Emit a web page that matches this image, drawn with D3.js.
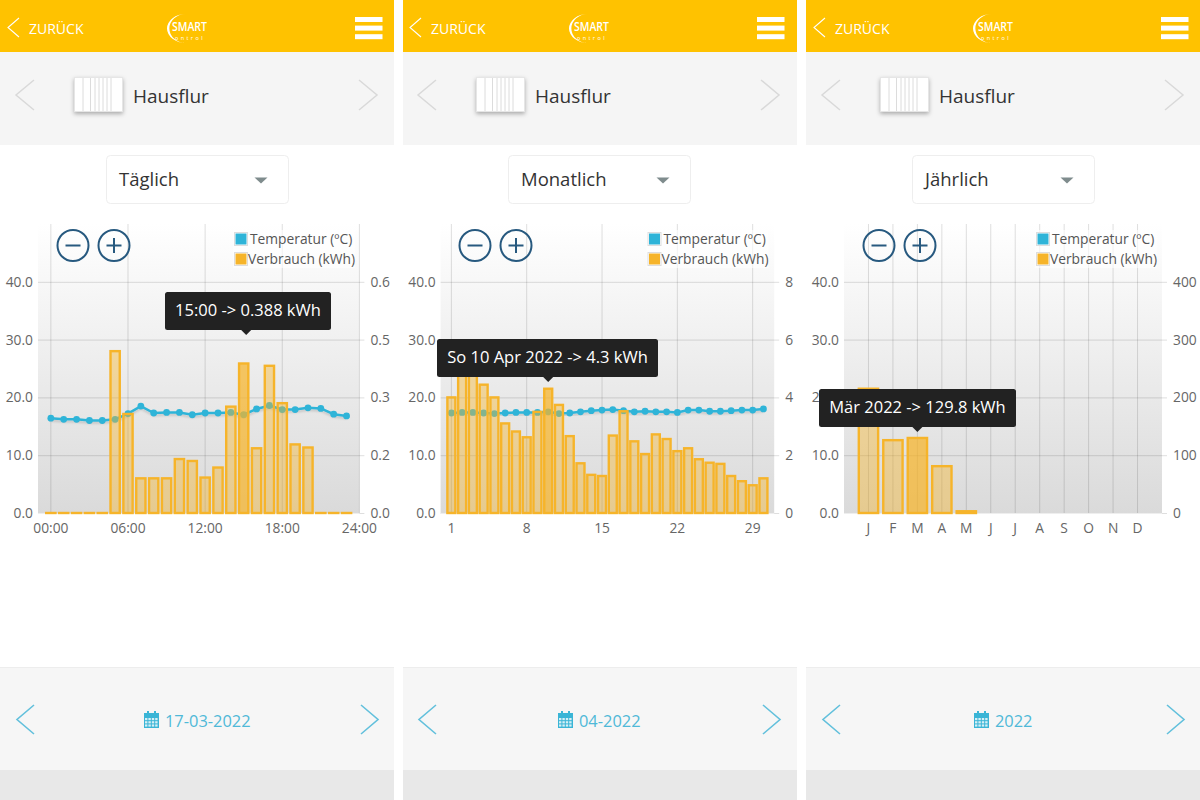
<!DOCTYPE html>
<html><head><meta charset="utf-8">
<script src="https://cdn.jsdelivr.net/npm/d3@7"></script>
<style>
html,body{margin:0;padding:0;background:#fff;overflow:hidden}
svg{display:block;font-family:"Open Sans",sans-serif}
</style></head><body>
<svg id="c" width="1200" height="800"></svg>
<script>
// ---- data ----
const dayHours = d3.range(0,24);
const dayTemp = [16.4,16.2,16.2,16.0,16.0,16.2,17.2,18.5,17.3,17.4,17.4,17.0,17.3,17.3,17.4,17.0,18.0,18.6,17.9,17.9,18.2,18.1,17.1,16.8];
const dayKwh = [0,0,0,0,0,0.42,0.257,0.09,0.09,0.09,0.14,0.135,0.092,0.118,0.276,0.388,0.168,0.382,0.285,0.178,0.17,0,0,0];
const dayTicks = [0,6,12,18,24];
const dayTickLabels = ["00:00","06:00","12:00","18:00","24:00"];
const dayRight = [0,0.15,0.3,0.45,0.6];
const dayRightLabels = ["0.0","0.2","0.3","0.5","0.6"];

const monthDays = d3.range(1,31);
const monthTemp = [17.3,17.4,17.4,17.3,17.2,17.3,17.4,17.4,17.4,17.5,17.2,17.3,17.5,17.7,17.8,17.9,17.7,17.5,17.6,17.5,17.5,17.4,17.8,17.8,17.6,17.6,17.7,17.8,17.8,18.0];
const monthKwh = [4.0,5.0,4.8,4.44,4.0,3.1,2.82,2.62,3.5,4.3,3.74,2.66,1.72,1.32,1.28,2.68,3.52,2.48,2.04,2.72,2.56,2.14,2.24,1.86,1.74,1.7,1.28,1.1,0.96,1.2];
const monthTicks = [1,8,15,22,29];
const monthTickLabels = ["1","8","15","22","29"];
const monthRight = [0,2,4,6,8];
const monthRightLabels = ["0","2","4","6","8"];

const yearMonths = [1,2,3,4,5];
const yearKwh = [215,126,129.8,81,3];
const yearTicks = d3.range(1,13);
const yearTickLabels = ["J","F","M","A","M","J","J","A","S","O","N","D"];
const yearRight = [0,100,200,300,400];
const yearRightLabels = ["0","100","200","300","400"];

const leftTicks = [0,10,20,30,40];
const legendLabels = ["Temperatur (ºC)","Verbrauch (kWh)"];
const rangeNames = ["Täglich","Monatlich","Jährlich"];
const dateLabels = ["17-03-2022","04-2022","2022"];
const tooltips = ["15:00 -> 0.388 kWh","So 10 Apr 2022 -> 4.3 kWh","Mär 2022 -> 129.8 kWh"];

// ---- panels ----
const panels = [
 {ox:0,  hx:0,  l:38,   r:359.4, xd:[-1,24], rmax:0.75, x:dayHours, t:dayTemp, k:dayKwh, hi:15, bw:.72,
  xt:dayTicks, xl:dayTickLabels, rt:dayRight, rl:dayRightLabels, lx:234, tipL:165,tipW:166,tipY:292,tipDx:2.5, date:144},
 {ox:403,hx:402,l:440.6,r:774.2, xd:[0,31],  rmax:10,   x:monthDays, t:monthTemp, k:monthKwh, hi:10, bw:.74,
  xt:monthTicks, xl:monthTickLabels, rt:monthRight, rl:monthRightLabels, lx:647.5, tipL:437,tipW:221,tipY:339,tipDx:0, date:558},
 {ox:806,hx:806,l:844,  r:1162,  xd:[0,13],  rmax:500,  x:yearMonths, t:null, k:yearKwh, hi:3, bw:.79,
  xt:yearTicks, xl:yearTickLabels, rt:yearRight, rl:yearRightLabels, lx:1036, tipL:819,tipW:197,tipY:389,tipDx:0, date:974}
];
const W=394, plotTop=224, plotBottom=513;
const svg=d3.select("#c");
const defs=svg.append("defs");
const g=defs.append("linearGradient").attr("id","bg").attr("x1",0).attr("x2",0).attr("y1",0).attr("y2",1);
g.append("stop").attr("offset",0).attr("stop-color","#ffffff");
g.append("stop").attr("offset",1).attr("stop-color","#dadada");
const blur=defs.append("filter").attr("id","sh").attr("x","-20%").attr("y","-20%").attr("width","140%").attr("height","150%");
blur.append("feDropShadow").attr("dx",0).attr("dy",2).attr("stdDeviation",2).attr("flood-color","#000").attr("flood-opacity",.3);
const ls=defs.append("filter").attr("id","ls").attr("x","-5%").attr("y","-50%").attr("width","110%").attr("height","200%");
ls.append("feDropShadow").attr("dx",0).attr("dy",2).attr("stdDeviation",1).attr("flood-color","#000").attr("flood-opacity",.15);

const chev=(s,x,y,w,h,dir,col,sw)=>s.append("path")
  .attr("d",`M${x+(dir<0?w:0)},${y}L${x+(dir<0?0:w)},${y+h/2}L${x+(dir<0?w:0)},${y+h}`)
  .attr("fill","none").attr("stroke",col).attr("stroke-width",sw);

panels.forEach((p,i)=>{
  const o=p.hx, s=svg.append("g");
  // header
  s.append("rect").attr("x",p.ox).attr("y",0).attr("width",W).attr("height",52).attr("fill","#ffc200");
  s.append("rect").attr("x",p.ox).attr("y",52).attr("width",W).attr("height",93).attr("fill","#f5f5f5");
  chev(s,o+8,18,11,19,-1,"#fff",1.1);
  s.append("text").attr("x",o+29).attr("y",34).attr("fill","#fff").attr("font-size",14).text("ZURÜCK");
  // logo
  s.append("path").attr("d",`M${o+186},14A19,14.5,0,0,0,${o+186},43A15.5,13.5,0,0,1,${o+186},14Z`).attr("fill","#fff");
  s.append("text").attr("x",o+172).attr("y",30.5).attr("fill","#fff").attr("font-size",12).attr("font-weight",600).attr("textLength",35).attr("lengthAdjust","spacingAndGlyphs").text("SMART");
  s.append("text").attr("x",o+175).attr("y",39.5).attr("fill","#fff").attr("font-size",5.5).attr("letter-spacing",2.4).text("ontrol");
  // menu
  [0,1,2].forEach(k=>s.append("rect").attr("x",o+355).attr("y",17+k*8.6).attr("width",27.5).attr("height",5).attr("fill","#fff"));
  // device row
  chev(s,o+16,80,18,30,-1,"#d9d9d9",1.5);
  chev(s,o+359,80,18,30,1,"#d9d9d9",1.5);
  s.append("rect").attr("x",o+74.5).attr("y",77.5).attr("width",48).attr("height",34).attr("fill","#fff").attr("stroke","#e6e6e6").attr("filter","url(#sh)");
  [83,90.5,95,99,103,107,111].forEach(v=>s.append("line").attr("x1",o+v).attr("x2",o+v).attr("y1",78).attr("y2",111).attr("stroke","#dcdcdc"));
  s.append("text").attr("x",o+133).attr("y",103).attr("fill","#333").attr("font-size",19).text("Hausflur");
  // dropdown
  s.append("rect").attr("x",o+106.5).attr("y",155.5).attr("width",182).attr("height",48).attr("rx",4).attr("fill","#fff").attr("stroke","#eeeeee");
  s.append("text").attr("x",o+119).attr("y",186).attr("fill","#333").attr("font-size",18.5).text(rangeNames[i]);
  s.append("path").attr("d",`M${o+254.5},177.5h13l-6.5,6z`).attr("fill","#7f8c8d");
  // footer
  s.append("rect").attr("x",p.ox).attr("y",667).attr("width",W).attr("height",103).attr("fill","#f6f6f6");
  s.append("line").attr("x1",p.ox).attr("x2",p.ox+W).attr("y1",667.5).attr("y2",667.5).attr("stroke","#ededed");
  s.append("rect").attr("x",p.ox).attr("y",770).attr("width",W).attr("height",30).attr("fill","#e8e8e8");
  chev(s,o+17,705,17,29,-1,"#62c0dc",1.6);
  chev(s,o+361,705,17,29,1,"#62c0dc",1.6);
  // calendar icon
  const cx=p.date;
  s.append("rect").attr("x",cx).attr("y",713).attr("width",15).attr("height",15).attr("fill","#3ab5d6");
  s.append("rect").attr("x",cx+3).attr("y",711).attr("width",2).attr("height",3).attr("fill","#3ab5d6");
  s.append("rect").attr("x",cx+10).attr("y",711).attr("width",2).attr("height",3).attr("fill","#3ab5d6");
  [0,1,2,3].forEach(a=>[0,1,2].forEach(b=>{
    s.append("rect").attr("x",cx+1+a*3.4).attr("y",718+b*3.2).attr("width",2.4).attr("height",2.2).attr("fill","#d6eff6");
  }));
  s.append("text").attr("x",cx+21).attr("y",727).attr("fill","#4fb9d8").attr("font-size",16.4).text(dateLabels[i]);

  // chart
  const x=d3.scaleLinear().domain(p.xd).range([p.l,p.r]);
  const yL=d3.scaleLinear().domain([0,50]).range([plotBottom,plotTop]);
  const yR=d3.scaleLinear().domain([0,p.rmax]).range([plotBottom,plotTop]);
  const pw=p.r-p.l;
  s.append("rect").attr("x",p.l).attr("y",plotTop).attr("width",pw).attr("height",plotBottom-plotTop).attr("fill","url(#bg)");

  const style=(ax)=>{ax.select(".domain").remove();
    ax.selectAll("line").attr("stroke","#000").attr("stroke-opacity",.13);
    ax.selectAll("text").attr("fill","#666").attr("font-size",13.8).attr("font-family",'"Open Sans",sans-serif');};

  const ax1=s.append("g").attr("transform",`translate(${p.l},0)`)
    .call(d3.axisLeft(yL).tickValues(leftTicks).tickFormat(d3.format(".1f")).tickSize(-pw).tickPadding(5));
  style(ax1);
  const ax2=s.append("g").attr("transform",`translate(${p.r},0)`)
    .call(d3.axisRight(yR).tickValues(p.rt).tickFormat((d,k)=>p.rl[k]).tickSize(5).tickPadding(6));
  style(ax2);
  const ax3=s.append("g").attr("transform",`translate(0,${plotBottom})`)
    .call(d3.axisBottom(x).tickValues(p.xt).tickFormat((d,k)=>p.xl[k]).tickSize(-(plotBottom-plotTop)).tickPadding(10).offset(0));
  style(ax3);
  s.append("line").attr("x1",p.l).attr("x2",p.r).attr("y1",plotBottom+.5).attr("y2",plotBottom+.5).attr("stroke","#eeeeee");

  // temperature
  if(p.t){
    const ln=d3.line().x((d,k)=>x(p.x[k])).y(d=>yL(d));
    s.append("path").datum(p.t).attr("d",ln).attr("fill","none").attr("stroke","#2fb4d8").attr("stroke-width",2.5).attr("filter","url(#ls)");
    s.selectAll(null).data(p.t).join("circle").attr("cx",(d,k)=>x(p.x[k])).attr("cy",d=>yL(d)).attr("r",3.4).attr("fill","#2fb4d8");
  }
  // bars (zero values stay visible as a flat dash)
  const bw=(x(1)-x(0))*p.bw;
  s.selectAll(null).data(p.k).join("rect")
    .attr("x",(d,k)=>x(p.x[k])-bw/2).attr("width",bw)
    .attr("y",d=>Math.min(yR(d),plotBottom-0.01)).attr("height",d=>Math.max(plotBottom-yR(d),0.01))
    .attr("fill","#f6b42a").attr("fill-opacity",(d,k)=>p.x[k]===p.hi?.72:.42)
    .attr("stroke","#f6b42a").attr("stroke-width",2.4);

  // zoom buttons
  [[73,"-"],[114,"+"]].forEach(([bx,t])=>{
    const b=o+bx;
    s.append("circle").attr("cx",b).attr("cy",245.5).attr("r",15.5).attr("fill","none").attr("stroke","#27597f").attr("stroke-width",2);
    s.append("line").attr("x1",b-7.5).attr("x2",b+7.5).attr("y1",245.5).attr("y2",245.5).attr("stroke","#27597f").attr("stroke-width",2);
    if(t==="+") s.append("line").attr("x1",b).attr("x2",b).attr("y1",238).attr("y2",253).attr("stroke","#27597f").attr("stroke-width",2);
  });

  // legend
  s.append("rect").attr("x",p.lx-1).attr("y",230).attr("width",122).attr("height",38).attr("fill","#fff").attr("fill-opacity",.6);
  [["#2fb4d8",233,244],["#f6b42a",253,264]].forEach(([c,sy,ty],k)=>{
    s.append("rect").attr("x",p.lx+.5).attr("y",sy-.5).attr("width",13).attr("height",13).attr("fill","#fff").attr("stroke","#dddddd");
    s.append("rect").attr("x",p.lx+1.5).attr("y",sy+.5).attr("width",11).attr("height",11).attr("fill",c);
    s.append("text").attr("x",p.lx+(k?14:16)).attr("y",ty).attr("fill","#555").attr("font-size",13.8).text(legendLabels[k]);
  });

  // tooltip
  const tipX=x(p.hi)+p.tipDx;
  s.append("rect").attr("x",p.tipL).attr("y",p.tipY).attr("width",p.tipW).attr("height",38).attr("rx",2.5).attr("fill","#222");
  s.append("path").attr("d",`M${tipX-5},${p.tipY+38}L${tipX},${p.tipY+43}L${tipX+5},${p.tipY+38}z`).attr("fill","#222");
  s.append("text").attr("x",p.tipL+p.tipW/2).attr("y",p.tipY+24).attr("text-anchor","middle").attr("fill","#fff").attr("font-size",16.5).text(tooltips[i]);
});
</script>
</body></html>
